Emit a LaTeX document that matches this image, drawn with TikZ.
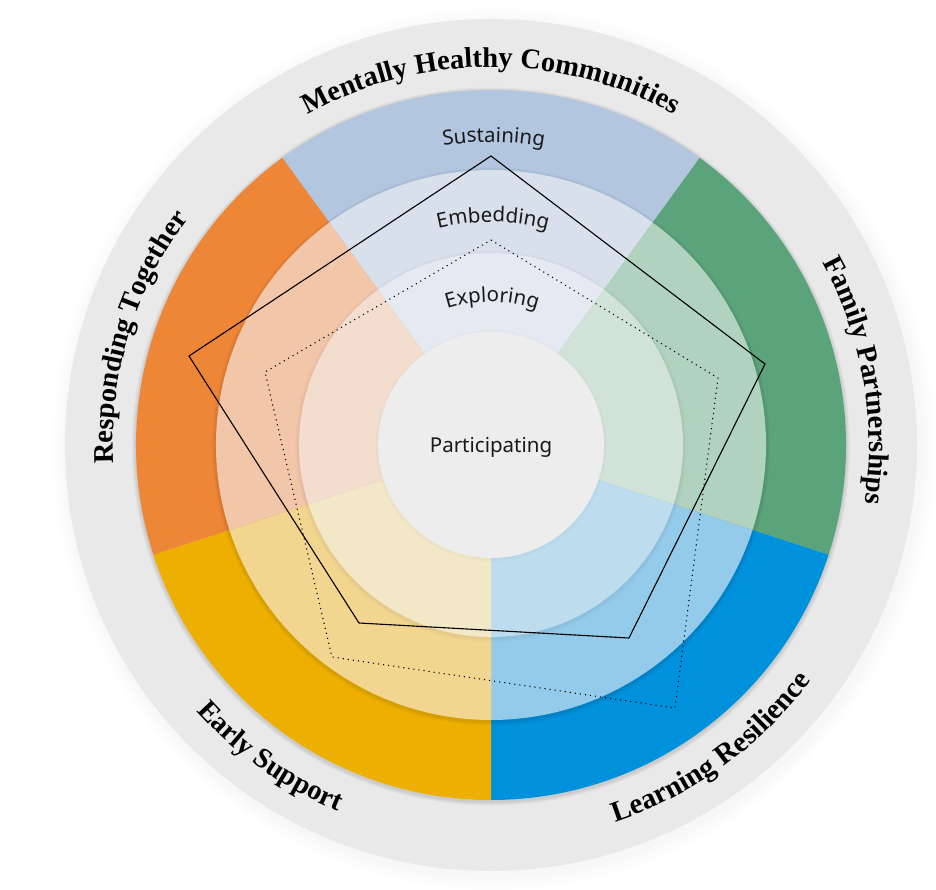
\documentclass[tikz,border=0pt]{standalone}
\usepackage{fontspec}
\usetikzlibrary{decorations.text}
\newfontfamily\headfont{Liberation Serif}
\newfontfamily\levelfont{Noto Sans}
\definecolor{disc}{HTML}{E9E9E9}
\definecolor{core}{HTML}{EDEDED}
\definecolor{aO}{HTML}{B2C6E0}\definecolor{aM}{HTML}{D8E0EC}\definecolor{aI}{HTML}{E5E9F1}
\definecolor{bO}{HTML}{5AA37B}\definecolor{bM}{HTML}{B1D2BE}\definecolor{bI}{HTML}{D1E3D8}
\definecolor{cO}{HTML}{0091DC}\definecolor{cM}{HTML}{95CBEA}\definecolor{cI}{HTML}{BDDDEF}
\definecolor{dO}{HTML}{EDB000}\definecolor{dM}{HTML}{F2D690}\definecolor{dI}{HTML}{F2E7C6}
\definecolor{eO}{HTML}{EE8638}\definecolor{eM}{HTML}{F2C6A9}\definecolor{eI}{HTML}{F2DDCF}
\tikzset{
  headtext/.style={decorate,decoration={text along path,text align=center,
    text={|\headfont\bfseries\fontsize{#1}{#1}\selectfont|\arctext}}},
  leveltext/.style={decorate,decoration={text along path,text align=center,
    text={|\levelfont\fontsize{20.5}{21}\selectfont\color{black!90}|\arctext}}},
  radar/.style={black,line width=1.1pt,line join=miter},
  radardots/.style={black,line width=1.1pt,dash pattern=on 1.1pt off 4pt}
}
% blurred edge below a disc of radius #1, strength #2
\newcommand{\softedge}[2]{%
  \foreach \k in {4,3,2,1}{\fill[black,opacity=#2] (0,-1.5) circle[radius=#1+\k];}}
\newcommand{\ringfill}[6]{%
  \fill[#2] (0,0) -- (54:#1) arc[start angle=54,end angle=126,radius=#1] -- cycle;
  \fill[#3] (0,0) -- (-18:#1) arc[start angle=-18,end angle=54,radius=#1] -- cycle;
  \fill[#4] (0,0) -- (-90:#1) arc[start angle=-90,end angle=-18,radius=#1] -- cycle;
  \fill[#5] (0,0) -- (198:#1) arc[start angle=198,end angle=270,radius=#1] -- cycle;
  \fill[#6] (0,0) -- (126:#1) arc[start angle=126,end angle=198,radius=#1] -- cycle;}
\begin{document}
\begin{tikzpicture}[x=1pt,y=1pt]
\useasboundingbox (-491,-444) rectangle (445,445);
% outer disc
\foreach \k in {16,14,12,10,8,6,4,2}{\fill[black,opacity=.005] (3,-4) circle[radius=426+\k];}
\fill[disc] (0,0) circle[radius=426];
% coloured rings
\softedge{355}{.03}
\ringfill{355}{aO}{bO}{cO}{dO}{eO}
\softedge{275}{.025}
\ringfill{275}{aM}{bM}{cM}{dM}{eM}
\softedge{192}{.012}
\ringfill{192}{aI}{bI}{cI}{dI}{eI}
\foreach \k in {3,2,1}{\fill[black,opacity=.008] (0,-1) circle[radius=113+\k];}
\fill[core] (0,0) circle[radius=113];
% radar polygons
\coordinate (s1) at (0,289);
\coordinate (s2) at (274,81);
\coordinate (s3) at (138,-193);
\coordinate (s4) at (-132,-178);
\coordinate (s5) at (-302,89);
\coordinate (t1) at (0,205);
\coordinate (t2) at (227,67);
\coordinate (t3) at (184,-263);
\coordinate (t4) at (-159,-212);
\coordinate (t5) at (-226,73);
\draw[radar] (s1) -- (s2) -- (s3) -- (s4) -- (s5) -- cycle;
\draw[radardots] (t1) -- (t2) -- (t3) -- (t4) -- (t5) -- cycle;
% level labels
\def\arctext{Sustaining}
\path[leveltext] (130:303) arc[start angle=130,end angle=49,radius=303];
\def\arctext{Embedding}
\path[leveltext] (130:223) arc[start angle=130,end angle=49,radius=223];
\def\arctext{Exploring}
\path[leveltext] (130:143) arc[start angle=130,end angle=49,radius=143];
\node[font=\levelfont\fontsize{20.5}{21}\selectfont,text=black!90] (core) at (0,-2) {Participating};
% sector headings
\def\arctext{Mentally Healthy Communities}
\path[headtext=28.5] (140:378) arc[start angle=140,end angle=40,radius=378];
\def\arctext{Family Partnerships}
\path[headtext=28.5] (60:378) arc[start angle=60,end angle=-40,radius=378];
\def\arctext{Learning Resilience}
\path[headtext=29] (256:397) arc[start angle=256,end angle=356,radius=397];
\def\arctext{Early Support}
\path[headtext=28.5] (184.7:397) arc[start angle=184.7,end angle=284.7,radius=397];
\def\arctext{Responding Together}
\path[headtext=28.5] (213:378) arc[start angle=213,end angle=113,radius=378];
\end{tikzpicture}
\end{document}
